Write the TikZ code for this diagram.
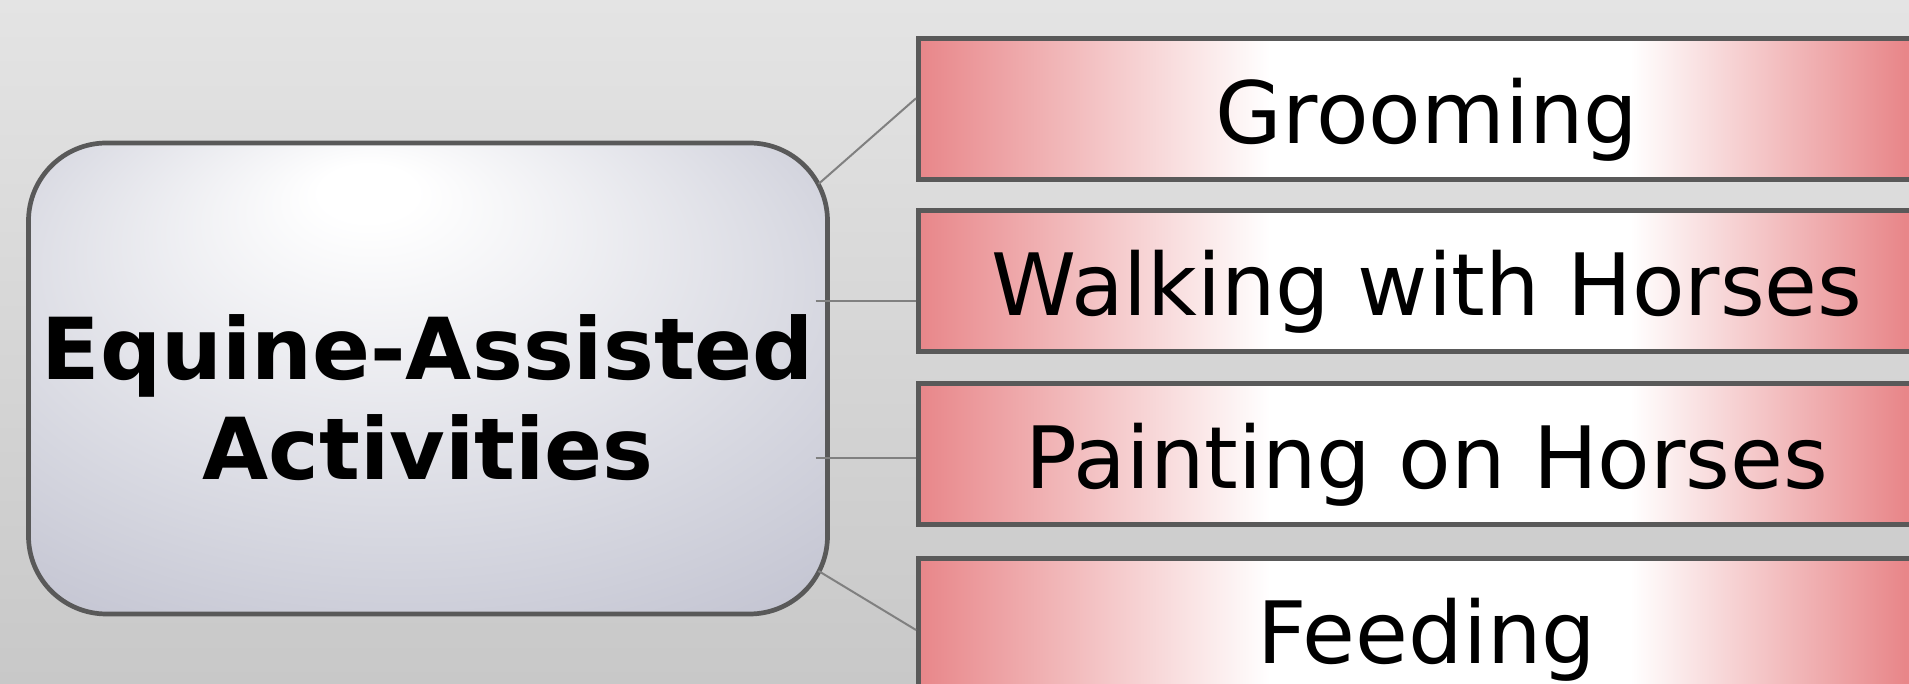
\documentclass[tikz,border=0pt]{standalone}
\usepackage{fontspec}
\setmainfont{DejaVu Sans}
\usetikzlibrary{calc}

\definecolor{bgtop}{RGB}{228,228,228}
\definecolor{bgbot}{RGB}{200,200,200}
\definecolor{edge}{RGB}{89,89,89}
\definecolor{wire}{RGB}{128,128,128}
\definecolor{rose}{RGB}{232,134,137}
\definecolor{slate}{RGB}{176,177,195}
\definecolor{mist}{RGB}{214,215,224}

% pink at both ends, white band in the middle
\pgfdeclarehorizontalshading{rosebar}{100bp}{%
  color(0bp)=(rose); color(25bp)=(rose); color(42.3bp)=(white);
  color(60bp)=(white); color(73.5bp)=(rose); color(100bp)=(rose)}
% soft glow near the top of the central box
\pgfdeclareradialshading{glow}{\pgfpoint{-4bp}{21bp}}{%
  color(0bp)=(white); color(3bp)=(white); color(27bp)=(mist);
  color(50bp)=(slate)}

\tikzset{
  hub/.style={rectangle, rounded corners=78pt, draw=edge, line width=4.7pt,
    shading=glow, minimum width=799pt, minimum height=471pt, inner sep=0pt},
  hubtext/.style={font=\bfseries\fontsize{85.5}{100.5}\selectfont, align=center,
    inner sep=0pt},
  leaf/.style={rectangle, draw=edge, line width=5pt, shading=rosebar,
    minimum width=1017pt, minimum height=141pt, inner sep=0pt,
    font=\fontsize{86}{100}\selectfont, text height=75pt, text depth=6pt},
  link/.style={draw=wire, line width=2pt}
}

\begin{document}
\begin{tikzpicture}[x=1pt, y=1pt]
  \useasboundingbox (0,0) rectangle (1909,684);
  \clip (0,0) rectangle (1909,684);
  \shade[top color=bgtop, bottom color=bgbot] (0,0) rectangle (1909,684);

  \node[hub] (main) at (428,305.5) {};
  % base anchor sits on the baseline of the last line
  \node[hubtext, anchor=base] (maintxt) at ([yshift=-101.5pt]main.center)
    {Equine-Assisted\\Activities};

  \node[leaf] (c1) at (1427,575) {Grooming};
  \node[leaf] (c2) at (1427,403) {Walking with Horses};
  \node[leaf] (c3) at (1427,230) {Painting on Horses};
  \node[leaf] (c4) at (1427,55)  {Feeding};

  \draw[link] ([shift={(390.5,194.5)}]main.center) -- ([yshift=10.7pt]c1.west);
  \draw[link] ([shift={(387.5,77.5)}]main.center) -- ([yshift=-20pt]c2.west);
  \draw[link] ([shift={(387.5,-79.5)}]main.center) -- ([yshift=-4pt]c3.west);
  \draw[link] ([shift={(390.5,-192.5)}]main.center) -- ([yshift=-1pt]c4.west);
\end{tikzpicture}
\end{document}
